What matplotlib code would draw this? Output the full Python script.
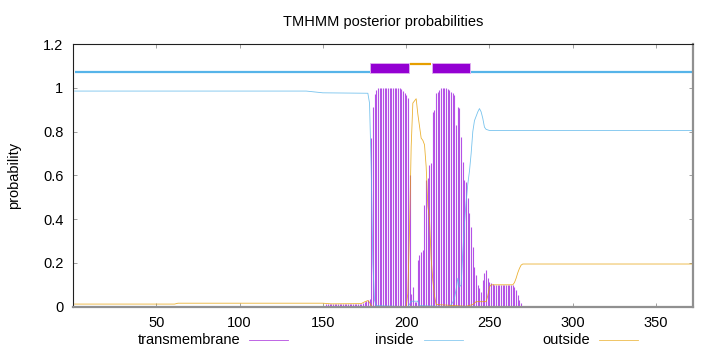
import numpy as np
import matplotlib.pyplot as plt
from matplotlib.patches import Rectangle
from matplotlib.lines import Line2D

plt.rcParams['font.family'] = ['Liberation Sans', 'DejaVu Sans']

seq_len = 372

# transmembrane posterior probability, one value per residue starting at tm_first
tm_first = 152
tm_vals = [
    0.012, 0.012, 0.012, 0.012, 0.012, 0.012, 0.012, 0.012, 0.012, 0.012, 0.012,
    0.012, 0.012, 0.012, 0.012, 0.012, 0.012, 0.012, 0.012, 0.012, 0.012, 0.012,
    0.015, 0.02, 0.025, 0.03, 0.035,                       # 174-178
    0.77, 0.91, 0.97, 0.99,                                # 179-182
    1.0, 1.0, 1.0, 1.0, 1.0, 1.0, 1.0, 1.0, 1.0, 1.0, 1.0, 1.0, 1.0, 1.0,  # 183-196
    0.995, 0.985, 0.975, 0.967, 0.952,                     # 197-201
    0.6, 0.06, 0.09, 0.02, 0.02,                           # 202-206
    0.213, 0.236, 0.251, 0.259, 0.465, 0.579, 0.586, 0.647, 0.655,  # 207-215
    0.891, 0.899, 0.975, 0.982, 0.99,                      # 216-220
    1.0, 1.0, 1.0, 1.0, 0.995,                             # 221-225
    0.99, 0.98, 0.975, 0.967, 0.83, 0.914, 0.906, 0.777,   # 226-233
    0.662, 0.579, 0.571, 0.495, 0.427, 0.365, 0.274, 0.183,  # 234-241
    0.145, 0.10, 0.084, 0.069, 0.122, 0.152, 0.168, 0.13,  # 242-249
    0.114, 0.107, 0.102,                                   # 250-252
    0.099, 0.099, 0.099, 0.099, 0.099, 0.099, 0.099, 0.099, 0.099, 0.099, 0.099, 0.099,  # 253-264
    0.091, 0.076, 0.053, 0.031, 0.015,                     # 265-269
]

# inside / outside curves (residue, probability)
inside_x = [1, 140, 150, 177, 178, 179, 180, 181, 182, 201, 202, 203, 207, 208,
            226, 228, 229, 230, 231, 232, 233, 234, 235, 236, 237, 238, 239,
            240, 241, 242, 243, 244, 245, 246, 247, 248, 250, 372]
inside_y = [0.985, 0.985, 0.977, 0.975, 0.93, 0.64, 0.2, 0.03, 0.005, 0.0, 0.01, 0.025, 0.025, 0.005,
            0.0, 0.02, 0.04, 0.08, 0.13, 0.09, 0.10, 0.25, 0.38, 0.48, 0.56, 0.62, 0.70,
            0.80, 0.85, 0.87, 0.89, 0.905, 0.89, 0.86, 0.82, 0.81, 0.805, 0.805]

outside_x = [1, 61, 63, 150, 155, 173, 175, 177, 178, 179, 180, 200, 201, 202, 203, 204,
             206, 207, 209, 210, 211, 212, 213, 214, 215, 216, 217, 218, 236, 240, 242,
             248, 249, 250, 251, 264, 265, 266, 267, 268, 269, 270, 372]
outside_y = [0.012, 0.012, 0.016, 0.016, 0.013, 0.014, 0.022, 0.028, 0.02, 0.005, 0.0, 0.0, 0.06,
             0.35, 0.73, 0.93, 0.95, 0.88, 0.77, 0.76, 0.74, 0.64, 0.46, 0.40, 0.22, 0.12, 0.05,
             0.01, 0.002, 0.01, 0.023, 0.023, 0.05, 0.09, 0.10, 0.10, 0.11, 0.13, 0.155,
             0.175, 0.19, 0.195, 0.195]

# predicted topology shown above the curves
topo_kind = ['inside', 'TMhelix', 'outside', 'TMhelix', 'inside']
topo_start = [1, 179, 202, 216, 239]
topo_end = [178, 201, 215, 238, 372]

purple = '#9400d3'
blue = '#56b4e9'
orange = '#e69f00'

fig = plt.figure(figsize=(7.2, 3.52), dpi=100)
ax = fig.add_axes([73 / 720, 45.3 / 352, 619.7 / 720, 262.7 / 352])

tm_pos = np.arange(tm_first, tm_first + len(tm_vals))
ax.vlines(tm_pos, 0, tm_vals, color='#b452e6', lw=0.8)
ax.plot(inside_x, inside_y, color=blue, lw=0.6, alpha=0.8)
ax.plot(outside_x, outside_y, color=orange, lw=0.6, alpha=0.8)

for kind, s, e in zip(topo_kind, topo_start, topo_end):
    if kind == 'inside':
        ax.hlines(1.07, s, e, color=blue, lw=1.6)
    elif kind == 'outside':
        ax.hlines(1.11, s, e, color=orange, lw=1.6)
    else:
        ax.add_patch(Rectangle((s - 0.5, 1.067), e - s + 1, 0.044,
                               facecolor=purple, edgecolor='#e0b0f0', lw=0.6))

ax.set_xlim(0, seq_len)
ax.set_ylim(0, 1.2)
ax.set_xticks([50, 100, 150, 200, 250, 300, 350])
ax.set_yticks([0, 0.2, 0.4, 0.6, 0.8, 1.0, 1.2])
ax.set_yticklabels(['0', '0.2', '0.4', '0.6', '0.8', '1', '1.2'])
ax.tick_params(direction='in', length=3, width=0.6, color='#909090',
               top=True, right=True, labelsize=10.5, pad=7)

for side in ['left', 'top']:
    ax.spines[side].set_color('#202020')
    ax.spines[side].set_linewidth(0.8)
for side in ['right', 'bottom']:
    ax.spines[side].set_color('#909090')
    ax.spines[side].set_linewidth(1.6)

fig.text(383 / 720, 1 - 22 / 352, 'TMHMM posterior probabilities',
         ha='center', va='center', fontsize=10.5)
fig.text(14 / 720, 1 - 175 / 352, 'probability', rotation=90,
         ha='center', va='center', fontsize=10.5)

# legend at the bottom, gnuplot style: label then sample line
leg_y = 1 - 340 / 352
legend_items = [('transmembrane', purple, 240, 249),
                ('inside', blue, 414, 424),
                ('outside', orange, 590, 599)]
for label, col, text_end, line_start in legend_items:
    fig.text(text_end / 720, leg_y, label, ha='right', va='center', fontsize=10.5)
    fig.add_artist(Line2D([line_start / 720, (line_start + 39) / 720], [leg_y, leg_y],
                          transform=fig.transFigure, color=col, lw=0.6, alpha=0.7))

fig.savefig('out.png', dpi=100)
